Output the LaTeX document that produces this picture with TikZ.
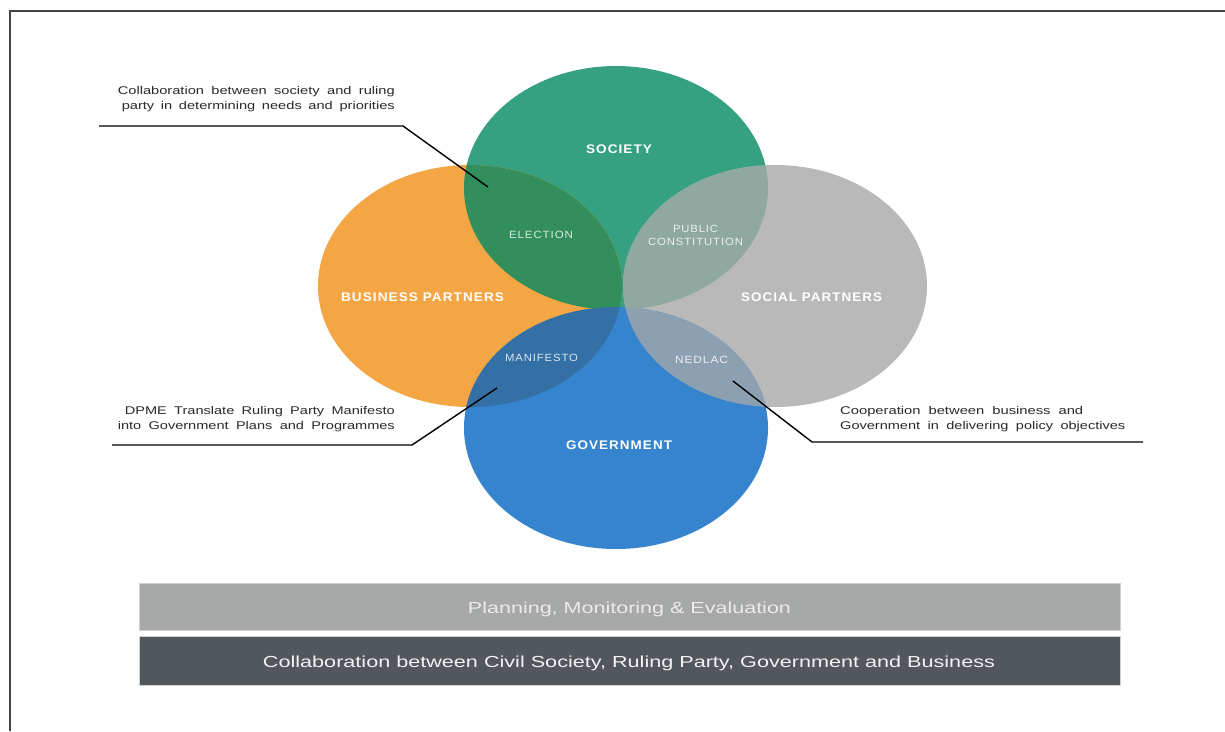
\documentclass[tikz,border=0pt]{standalone}
\usepackage{fontspec}
\setmainfont{Liberation Sans}
\newfontfamily\lsfont[LetterSpace=8]{Liberation Sans}
\usepackage{graphicx}
\definecolor{socg}{HTML}{35A180}
\definecolor{busor}{HTML}{F4A645}
\definecolor{socgray}{HTML}{B8B9B8}
\definecolor{govb}{HTML}{3684CD}
\definecolor{elecg}{HTML}{328E5A}
\definecolor{pubc}{HTML}{8FA8A0}
\definecolor{manib}{HTML}{3470A5}
\definecolor{nedc}{HTML}{8CA0B2}
\definecolor{barlight}{HTML}{A6A9A7}
\definecolor{bardark}{HTML}{52565D}
\definecolor{frame}{HTML}{444444}
\definecolor{anntext}{HTML}{2A2A2A}
\newlength\annw
\newcommand{\fitw}[2]{\resizebox{#1}{\height}{#2}}
\newcommand{\annline}[2]{\settowidth{\annw}{#2}\resizebox{#1}{\height}{\makebox[1.05\annw][s]{#2}}}
\tikzset{
  biglab/.style={text=white, inner sep=0pt, font=\lsfont\bfseries\fontsize{12.5}{14}\selectfont},
  smalllab/.style={text=white, text opacity=0.82, inner sep=0pt, font=\lsfont\fontsize{10.5}{12}\selectfont},
  anntxt/.style={text=anntext, inner sep=0pt, font=\fontsize{11.2}{13}\selectfont},
  conn/.style={line width=1.4pt, black},
  bartxt/.style={inner sep=0pt, font=\fontsize{16}{19}\selectfont},
}
\begin{document}
\begin{tikzpicture}[x=1pt,y=-1pt]
\useasboundingbox (0,0) rectangle (1225,731);
\fill[white] (0,0) rectangle (1225,731);
% frame
\draw[frame, line width=1.2pt] (10,731) -- (10,11) -- (1225,11);
% ellipses
\fill[socg] (616,188) ellipse [x radius=152pt, y radius=122pt];
\fill[busor] (470,286) ellipse [x radius=152pt, y radius=121pt];
\fill[socgray] (775,286) ellipse [x radius=152pt, y radius=121pt];
\fill[govb] (616,428) ellipse [x radius=152pt, y radius=121pt];
% overlaps
\begin{scope}
  \clip (616,188) ellipse [x radius=152pt, y radius=122pt];
  \fill[elecg] (470,286) ellipse [x radius=152pt, y radius=121pt];
  \fill[pubc] (775,286) ellipse [x radius=152pt, y radius=121pt];
\end{scope}
\begin{scope}
  \clip (616,428) ellipse [x radius=152pt, y radius=121pt];
  \fill[manib] (470,286) ellipse [x radius=152pt, y radius=121pt];
  \fill[nedc] (775,286) ellipse [x radius=152pt, y radius=121pt];
\end{scope}
% main labels
\node[biglab] (soc) at (619,149) {\fitw{66pt}{SOCIETY}};
\node[biglab] (bus) at (422.5,297) {\fitw{163pt}{BUSINESS PARTNERS}};
\node[biglab] (sp) at (811.5,297) {\fitw{141pt}{SOCIAL PARTNERS}};
\node[biglab] (gov) at (619,445) {\fitw{106pt}{GOVERNMENT}};
% overlap labels
\node[smalllab] (elec) at (541,234.5) {\fitw{64pt}{ELECTION}};
\node[smalllab] (pub) at (695.5,229) {\fitw{45pt}{PUBLIC}};
\node[smalllab] (cons) at (695.5,242) {\fitw{95pt}{CONSTITUTION}};
\node[smalllab] (mani) at (541.5,358) {\fitw{73pt}{MANIFESTO}};
\node[smalllab] (ned) at (701.5,359.5) {\fitw{53pt}{NEDLAC}};
% annotations
\node[anntxt, anchor=base east] (a1l1) at (395,94) {\annline{277pt}{Collaboration between society and ruling}};
\node[anntxt, anchor=base east] (a1l2) at (395,109) {\annline{273pt}{party in determining needs and priorities}};
\node[anntxt, anchor=base east] (a2l1) at (395,414) {\annline{270pt}{DPME Translate Ruling Party Manifesto}};
\node[anntxt, anchor=base east] (a2l2) at (395,429) {\annline{277pt}{into Government Plans and Programmes}};
\node[anntxt, anchor=base west] (a3l1) at (840,414) {\annline{243pt}{Cooperation between business and}};
\node[anntxt, anchor=base west] (a3l2) at (840,429) {\annline{285pt}{Government in delivering policy objectives}};
% leader lines
\coordinate (a1s) at (99,126);
\coordinate (a1k) at (403,126);
\coordinate (a1e) at (488,187);
\coordinate (a2s) at (112,445);
\coordinate (a2k) at (412,445);
\coordinate (a2e) at (497,388);
\coordinate (a3s) at (1143,442);
\coordinate (a3k) at (812,442);
\coordinate (a3e) at (733,381);
\draw[conn] (a1s) -- (a1k) -- (a1e);
\draw[conn] (a2s) -- (a2k) -- (a2e);
\draw[conn] (a3s) -- (a3k) -- (a3e);
% bars
\path[fill=barlight, draw=black!18, line width=0.8pt] (139,583) rectangle (1120,630);
\path[fill=bardark, draw=black!18, line width=0.8pt] (139,636) rectangle (1120,685);
\node[bartxt, text=white!92!black, anchor=base] (pme) at (629.5,613) {\fitw{323pt}{Planning, Monitoring \& Evaluation}};
\node[bartxt, text=white!95!black, anchor=base] (collab) at (629,667) {\fitw{732pt}{Collaboration between Civil Society, Ruling Party, Government and Business}};
\end{tikzpicture}
\end{document}
